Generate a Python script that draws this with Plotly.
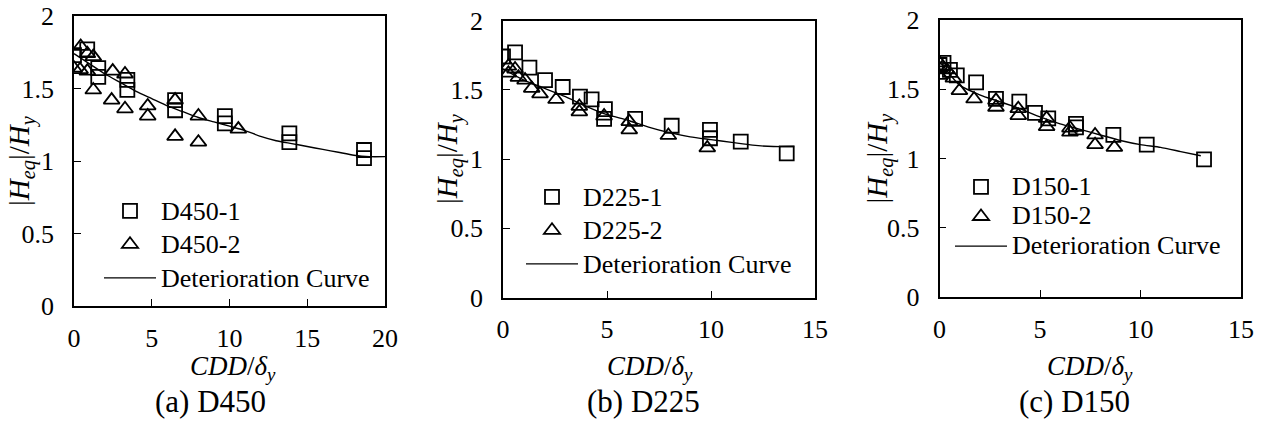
import plotly.graph_objects as go

# ---- D450 ----
a1_x = [0.0, 0.85, 1.56, 1.56, 3.43, 3.43, 6.5, 6.5, 9.7, 9.7, 13.85, 13.85, 18.65, 18.65]
a1_y = [1.73, 1.77, 1.64, 1.58, 1.56, 1.49, 1.42, 1.35, 1.31, 1.26, 1.19, 1.13, 1.076, 1.02]
a2_x = [0.43, 0.86, 1.24, 0.0, 0.39, 0.86, 1.24, 2.49, 3.28, 2.42, 3.28, 4.74, 4.74, 6.5, 6.5, 8.0, 8.0, 10.57]
a2_y = [1.79, 1.74, 1.72, 1.64, 1.63, 1.62, 1.49, 1.62, 1.60, 1.42, 1.36, 1.38, 1.31, 1.42, 1.17, 1.31, 1.13, 1.22]
a_cx = [0, 1, 2, 3, 4, 5, 6, 7, 8, 9, 10, 11, 12, 13, 14, 15, 16, 17, 18, 19, 20]
a_cy = [1.74, 1.67, 1.60, 1.54, 1.48, 1.43, 1.38, 1.34, 1.30, 1.27, 1.24, 1.21, 1.17, 1.14, 1.12,
        1.10, 1.08, 1.06, 1.04, 1.03, 1.03]

# ---- D225 ----
b1_x = [0.0, 0.58, 1.27, 2.02, 2.87, 3.70, 4.26, 4.90, 4.86, 6.35, 8.11, 9.95, 9.95, 11.43, 13.64]
b1_y = [1.74, 1.77, 1.66, 1.57, 1.52, 1.45, 1.43, 1.36, 1.29, 1.29, 1.24, 1.21, 1.15, 1.125, 1.04]
b2_x = [0.26, 0.58, 0.26, 0.74, 1.06, 1.38, 1.78, 2.55, 3.67, 3.67, 4.86, 6.07, 6.07, 7.95, 9.82]
b2_y = [1.67, 1.65, 1.62, 1.59, 1.57, 1.51, 1.47, 1.43, 1.38, 1.34, 1.31, 1.27, 1.21, 1.17, 1.08]
b_cx = [0, 1, 2, 3, 4, 5, 6, 7, 8, 9, 10, 11, 12, 13, 14]
b_cy = [1.65, 1.57, 1.51, 1.45, 1.38, 1.32, 1.28, 1.23, 1.19, 1.16, 1.14, 1.12, 1.10, 1.09, 1.09]

# ---- D150 ----
c1_x = [0.0, 0.2, 0.52, 0.86, 1.82, 2.81, 3.97, 4.75, 5.41, 6.79, 6.79, 8.65, 10.31, 13.16]
c1_y = [1.675, 1.69, 1.64, 1.60, 1.55, 1.43, 1.41, 1.33, 1.29, 1.25, 1.225, 1.17, 1.10, 0.994]
c2_x = [0.0, 0.16, 0.0, 0.36, 0.69, 0.99, 1.72, 2.81, 2.81, 3.92, 3.92, 5.33, 5.33, 6.49, 6.49,
        7.74, 7.74, 8.70]
c2_y = [1.69, 1.66, 1.60, 1.64, 1.58, 1.49, 1.43, 1.42, 1.37, 1.36, 1.31, 1.29, 1.23, 1.22, 1.19,
        1.17, 1.10, 1.08]
c_cx = [0, 1, 2, 3, 4, 5, 6, 7, 8, 9, 10, 11, 12, 13]
c_cy = [1.70, 1.53, 1.46, 1.41, 1.36, 1.30, 1.25, 1.21, 1.17, 1.13, 1.10, 1.08, 1.05, 1.02]

specimens = ["D450", "D225", "D150"]
captions = ["(a) D450", "(b) D225", "(c) D150"]
x_ranges = [[0, 20], [0, 15], [0, 15]]

W, H = 1264, 428
FONT = "Liberation Serif"
TEXT_SIZE = 26

# plot-area boxes in pixels: left, right, top, bottom
boxes = [(74, 385, 16, 306), (503, 815, 20.5, 297.5), (939.5, 1241, 20, 297)]
legend_pos = [(99, 189), (521, 175), (950, 167)]
# legend font size drives the row pitch; the visible text stays at TEXT_SIZE
legend_row_size = [23.5, 23.5, 20.5]
ytitle_x = [22, 449, 879]
xtitle_x = [233, 650, 1090]
caption_x = [210, 643, 1074]

series = [
    (a1_x, a1_y, a2_x, a2_y, a_cx, a_cy),
    (b1_x, b1_y, b2_x, b2_y, b_cx, b_cy),
    (c1_x, c1_y, c2_x, c2_y, c_cx, c_cy),
]


def big(label):
    return "<span style='font-size:%dpx'>%s</span>" % (TEXT_SIZE, label)


fig = go.Figure()
layout = dict(
    width=W, height=H,
    margin=dict(l=0, r=0, t=0, b=0, autoexpand=False),
    paper_bgcolor="white", plot_bgcolor="white",
    font=dict(family=FONT, size=TEXT_SIZE, color="black"),
    showlegend=True,
)
annotations = []

for i, (name, data) in enumerate(zip(specimens, series)):
    s1x, s1y, s2x, s2y, cx, cy = data
    k = "" if i == 0 else str(i + 1)
    xa, ya = "x" + k, "y" + k
    lg = "legend" + k
    fig.add_trace(go.Scatter(
        x=s1x, y=s1y, mode="markers", name=big(name + "-1"), xaxis=xa, yaxis=ya, legend=lg,
        legendgroup=name + "a",
        marker=dict(symbol="square-open", size=14, color="black", line=dict(width=1.8, color="black")),
    ))
    fig.add_trace(go.Scatter(
        x=s2x, y=s2y, mode="markers", name=big(name + "-2"), xaxis=xa, yaxis=ya, legend=lg,
        legendgroup=name + "b",
        marker=dict(symbol="triangle-up-open", size=14, color="black", line=dict(width=1.8, color="black")),
    ))
    fig.add_trace(go.Scatter(
        x=cx, y=cy, mode="lines", name=big("Deterioration Curve"), xaxis=xa, yaxis=ya, legend=lg,
        legendgroup=name + "c",
        line=dict(color="black", width=1.4, shape="spline", smoothing=0.6),
    ))

    l, r, t, b = boxes[i]
    axis_common = dict(
        showline=True, mirror=True, linecolor="black", linewidth=1.5,
        showgrid=False, zeroline=False, automargin=False,
        ticks="inside", ticklen=7, tickwidth=1.3, tickcolor="black",
        tickfont=dict(family=FONT, size=TEXT_SIZE, color="black"),
    )
    layout["xaxis" + k] = dict(
        axis_common, domain=[l / W, r / W], range=x_ranges[i], dtick=5, tick0=0,
        anchor=ya, ticklabelstandoff=8,
    )
    layout["yaxis" + k] = dict(
        axis_common, domain=[1 - b / H, 1 - t / H], range=[0, 2], dtick=0.5, tick0=0,
        anchor=xa, ticklabelstandoff=13,
    )
    lx, ly = legend_pos[i]
    layout[lg] = dict(
        x=lx / W, y=1 - ly / H, xanchor="left", yanchor="top",
        bgcolor="rgba(0,0,0,0)", borderwidth=0,
        font=dict(family=FONT, size=legend_row_size[i], color="black"),
        itemwidth=52, tracegroupgap=0, traceorder="normal",
    )

    annotations.append(dict(
        text="|<i>H</i><sub><i>eq</i></sub>|/<i>H</i><sub><i>y</i></sub>",
        xref="paper", yref="paper", x=ytitle_x[i] / W, y=1 - ((t + b) / 2) / H,
        xanchor="center", yanchor="middle", textangle=-90, showarrow=False,
        font=dict(family=FONT, size=29, color="black"),
    ))
    annotations.append(dict(
        text="<i>CDD</i>/<i>δ</i><sub><i>y</i></sub>",
        xref="paper", yref="paper", x=xtitle_x[i] / W, y=1 - 368 / H,
        xanchor="center", yanchor="middle", showarrow=False,
        font=dict(family=FONT, size=27, color="black"),
    ))
    annotations.append(dict(
        text=captions[i],
        xref="paper", yref="paper", x=caption_x[i] / W, y=1 - 401 / H,
        xanchor="center", yanchor="middle", showarrow=False,
        font=dict(family=FONT, size=31, color="black"),
    ))

layout["annotations"] = annotations
fig.update_layout(**layout)
fig.write_html("out.html")
